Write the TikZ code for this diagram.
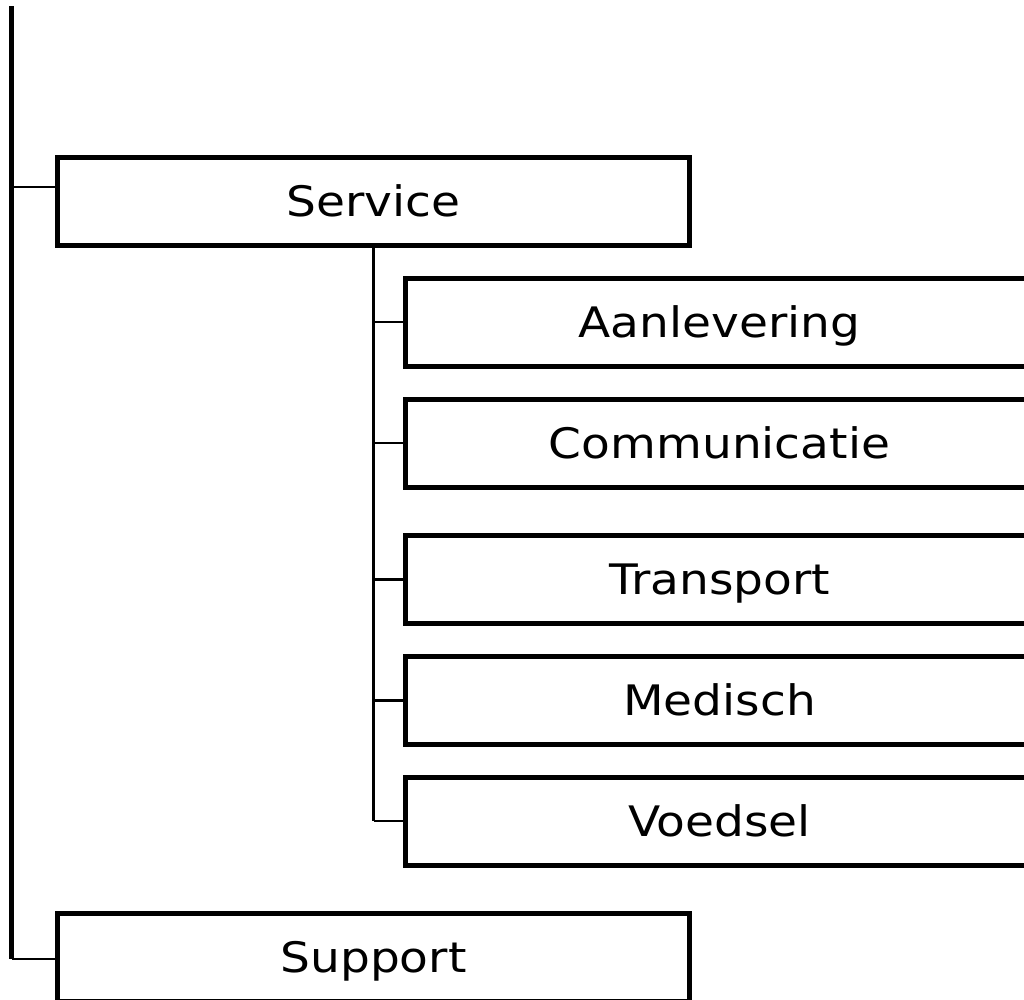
\documentclass[tikz,border=0pt]{standalone}
\usepackage{fontspec}
\setmainfont{DejaVu Sans}[FakeStretch=1.12]
\begin{document}
\begin{tikzpicture}[x=1pt,y=-1pt,
  box/.style={draw=black, line width=5pt, fill=white, rectangle, inner sep=0pt,
    minimum height=88pt, text height=30.6pt, text depth=0pt,
    font=\fontsize{42}{50}\selectfont},
  topbox/.style={box, minimum width=632pt},
  subbox/.style={box, minimum width=629pt},
  trunk/.style={draw=black, line width=5pt},
  subtrunk/.style={draw=black, line width=3pt},
  link/.style={draw=black, line width=2.5pt}]
\useasboundingbox (0,0) rectangle (1024,999);
\node[topbox] (service) at (373.5,201.5) {Service};
\node[topbox] (support) at (373.5,957.5) {Support};
\node[subbox] (aanlevering) at (719.5,322) {Aanlevering};
\node[subbox] (communicatie) at (719.5,443) {Communicatie};
\node[subbox] (transport) at (719.5,579.5) {Transport};
\node[subbox] (medisch) at (719.5,700.5) {Medisch};
\node[subbox] (voedsel) at (719.5,821) {Voedsel};
% main trunk
\coordinate (rootTop) at (11.5,6);
\coordinate (rootBot) at (11.5,959);
\coordinate (serviceJoin) at (11.5,187);
\draw[trunk] (rootTop) -- (rootBot);
\draw[link] (serviceJoin) -- (service.west |- serviceJoin);
\draw[link] (rootBot) -- (support.west |- rootBot);
% sub trunk
\coordinate (subTop) at (373.5,245.5);
\coordinate (subBot) at (373.5,821);
\draw[subtrunk] (subTop) -- (subBot);
\foreach \n in {aanlevering,communicatie,transport,medisch}
  \draw[link] (subTop |- \n.west) -- (\n.west);
\draw[link] (subBot) -- (voedsel.west);
\end{tikzpicture}
\end{document}
